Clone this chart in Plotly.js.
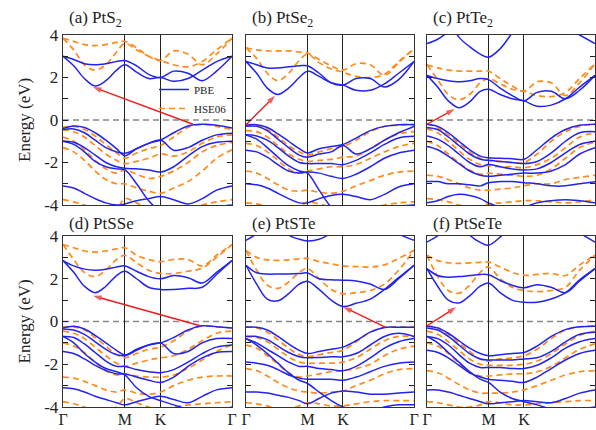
<!DOCTYPE html>
<html><head><meta charset="utf-8">
<script src="https://cdn.plot.ly/plotly-3.0.1.min.js"></script>
<style>html,body{margin:0;padding:0;background:#fff}#chart{width:596px;height:430px}</style>
</head><body><div id="chart"></div>
<script>
// k-path sample positions (Γ–M–K–Γ, hexagonal path lengths)
const kpts = [0, 0.15, 0.3, 0.45, 0.6, 0.75, 0.866, 1.03, 1.2, 1.366, 1.55, 1.75, 1.95, 2.15, 2.366];
const kTickVals = [0, 0.866, 1.366, 2.366];
const kTickText = ['Γ', 'M', 'K', 'Γ'];
const eTickVals = [-4, -2, 0, 2, 4];
const eTickText = ['-4', '-2', '0', '2', '4'];
const panelTitles = ['(a) PtS<sub>2</sub>', '(b) PtSe<sub>2</sub>', '(c) PtTe<sub>2</sub>', '(d) PtSSe', '(e) PtSTe', '(f) PtSeTe'];
const seriesNames = ['PBE', 'HSE06'];

// (a) PtS2
const PtS2_PBE = [
  [3.0, 2.55, 1.95, 1.6, 1.85, 2.35, 2.6, 2.25, 1.95, 2.0, 1.82, 1.95, 2.35, 2.75, 3.0],
  [3.0, 2.85, 2.65, 2.6, 2.65, 2.75, 2.8, 2.55, 2.15, 2.0, 2.3, 2.2, 1.85, 2.3, 3.0],
  [-0.4, -0.28, -0.35, -0.6, -0.95, -1.35, -1.68, -1.35, -1.1, -0.94, -0.6, -0.28, -0.2, -0.25, -0.38],
  [-0.45, -0.42, -0.6, -0.95, -1.3, -1.5, -1.57, -1.35, -1.1, -0.94, -1.42, -1.3, -0.95, -0.7, -0.62],
  [-1.0, -1.05, -1.3, -1.65, -2.0, -2.2, -2.27, -2.3, -2.35, -2.45, -2.2, -1.7, -1.25, -1.05, -1.0],
  [-1.0, -1.15, -1.5, -1.95, -2.2, -2.3, -2.35, -3.0, -3.8, -4.3, -4.5, -4.5, -4.3, -4.1, -4.0],
  [-3.1, -3.2, -3.45, -3.7, -3.9, -4.0, -3.95, -3.8, -3.7, -3.6, -3.75, -3.95, -3.7, -3.3, -3.1]
];
const PtS2_HSE = [
  [3.85, 3.3, 2.6, 2.35, 2.6, 3.2, 3.6, 3.3, 3.0, 2.8, 2.6, 2.5, 2.75, 3.3, 3.85],
  [3.85, 3.7, 3.55, 3.5, 3.55, 3.65, 3.7, 3.4, 3.0, 2.8, 3.25, 3.1, 2.6, 3.1, 3.85],
  [-0.35, -0.3, -0.45, -0.75, -1.15, -1.55, -1.8, -1.55, -1.35, -1.2, -0.8, -0.35, -0.2, -0.3, -0.45],
  [-0.45, -0.55, -0.8, -1.2, -1.6, -1.9, -2.05, -1.95, -1.8, -1.6, -1.7, -1.5, -1.1, -0.8, -0.7],
  [-0.8, -1.0, -1.4, -1.9, -2.3, -2.5, -2.35, -2.55, -2.75, -2.65, -2.4, -2.0, -1.5, -1.2, -1.05],
  [-1.3, -1.5, -1.9, -2.4, -2.8, -3.0, -3.0, -3.2, -3.35, -3.45, -3.2, -2.9, -2.4, -1.8, -1.4],
  [-3.75, -3.85, -4.0, -4.2, -4.3, -4.2, -3.7, -3.9, -4.2, -4.4, -4.4, -4.2, -4.0, -3.85, -3.75]
];
// (b) PtSe2
const PtSe2_PBE = [
  [2.75, 2.2, 1.5, 1.2, 1.5, 2.0, 2.3, 2.05, 1.75, 1.64, 1.4, 1.4, 1.7, 2.2, 2.75],
  [2.75, 2.6, 2.45, 2.45, 2.5, 2.55, 2.55, 2.2, 1.75, 1.64, 1.95, 1.95, 1.55, 1.9, 2.75],
  [-0.25, -0.22, -0.35, -0.65, -1.0, -1.35, -1.55, -1.35, -1.25, -1.15, -0.85, -0.5, -0.3, -0.22, -0.22],
  [-0.3, -0.3, -0.5, -0.9, -1.3, -1.65, -1.75, -1.6, -1.5, -1.2, -1.6, -1.35, -0.95, -0.6, -0.3],
  [-0.7, -0.75, -0.95, -1.3, -1.7, -2.0, -2.05, -2.05, -2.05, -2.1, -1.9, -1.55, -1.15, -0.85, -0.77],
  [-1.42, -1.5, -1.75, -2.1, -2.4, -2.5, -2.45, -2.5, -2.65, -2.75, -2.55, -2.2, -1.8, -1.55, -1.42],
  [-0.7, -0.9, -1.3, -1.75, -2.15, -2.4, -2.5, -3.3, -4.1, -4.5, -4.5, -4.3, -4.1, -4.05, -4.0],
  [-3.0, -3.05, -3.2, -3.45, -3.7, -3.9, -3.9, -3.7, -3.55, -3.5, -3.6, -3.75, -3.5, -3.15, -3.0]
];
const PtSe2_HSE = [
  [3.4, 2.9, 2.2, 1.85, 2.2, 2.8, 3.1, 2.7, 2.4, 2.25, 2.05, 2.0, 2.15, 2.75, 3.35],
  [3.4, 3.3, 3.25, 3.25, 3.25, 3.2, 3.15, 2.85, 2.55, 2.35, 2.65, 2.6, 2.1, 2.7, 3.35],
  [-0.2, -0.25, -0.45, -0.8, -1.2, -1.5, -1.65, -1.5, -1.35, -1.25, -0.95, -0.55, -0.3, -0.25, -0.2],
  [-0.5, -0.55, -0.8, -1.2, -1.6, -1.85, -1.95, -1.9, -1.85, -1.75, -1.7, -1.35, -0.95, -0.65, -0.55],
  [-1.1, -1.2, -1.5, -1.9, -2.3, -2.5, -2.4, -2.3, -2.2, -2.2, -2.1, -1.8, -1.5, -1.25, -1.1],
  [-2.4, -2.5, -2.75, -3.05, -3.3, -3.35, -3.3, -3.4, -3.45, -3.35, -3.1, -2.85, -2.6, -2.45, -2.4],
  [-3.9, -3.95, -4.1, -4.3, -4.3, -4.1, -3.85, -3.95, -4.1, -4.2, -4.2, -4.1, -4.0, -3.9, -3.85]
];
// (c) PtTe2
const PtTe2_PBE = [
  [2.1, 1.55, 0.9, 0.58, 0.85, 1.35, 1.45, 1.2, 1.0, 0.9, 0.65, 0.7, 1.0, 1.55, 2.1],
  [2.1, 1.95, 1.85, 1.8, 1.85, 1.95, 1.9, 1.5, 1.15, 0.9, 1.3, 1.35, 1.0, 1.4, 2.1],
  [3.6, 3.8, 4.15, 4.6, 5.0, 5.3, 5.4, 5.4, 5.4, 5.3, 5.1, 4.8, 4.4, 4.0, 3.6],
  [5.8, 5.6, 4.8, 3.9, 3.45, 3.1, 2.95, 3.35, 4.1, 4.8, 5.4, 5.8, 6.0, 6.0, 6.0],
  [-0.2, -0.3, -0.6, -1.0, -1.4, -1.7, -1.78, -1.8, -1.82, -1.85, -1.4, -0.85, -0.45, -0.25, -0.2],
  [-0.35, -0.45, -0.8, -1.2, -1.6, -1.85, -1.9, -1.95, -2.0, -2.05, -1.95, -1.55, -1.0, -0.6, -0.55],
  [-0.75, -0.9, -1.2, -1.6, -2.0, -2.2, -2.1, -2.2, -2.3, -2.35, -2.3, -2.0, -1.55, -1.15, -1.0],
  [-1.25, -1.4, -1.7, -2.05, -2.4, -2.6, -2.65, -2.6, -2.55, -2.5, -2.5, -2.4, -2.1, -1.6, -1.3],
  [-2.9, -2.9, -3.0, -3.0, -3.05, -3.1, -2.95, -2.9, -2.9, -2.95, -3.0, -3.1, -3.1, -3.0, -2.9],
  [-3.9, -3.8, -3.6, -3.5, -3.55, -3.7, -3.9, -4.1, -4.2, -4.1, -3.9, -3.8, -3.75, -3.8, -3.9]
];
const PtTe2_HSE = [
  [2.6, 1.9, 1.2, 0.95, 1.2, 1.75, 1.95, 1.7, 1.45, 1.35, 1.15, 1.1, 1.3, 1.95, 2.65],
  [2.6, 2.45, 2.35, 2.3, 2.3, 2.3, 2.3, 1.95, 1.6, 1.35, 1.8, 1.75, 1.15, 1.75, 2.65],
  [-0.2, -0.35, -0.7, -1.1, -1.5, -1.8, -1.9, -1.95, -2.0, -2.0, -1.6, -1.0, -0.55, -0.3, -0.2],
  [-0.4, -0.6, -1.0, -1.45, -1.85, -2.1, -2.15, -2.2, -2.2, -2.25, -2.1, -1.8, -1.3, -0.8, -0.6],
  [-1.0, -1.2, -1.6, -2.0, -2.35, -2.55, -2.5, -2.55, -2.6, -2.65, -2.6, -2.3, -1.8, -1.3, -1.05],
  [-2.6, -2.65, -2.8, -3.0, -3.2, -3.3, -3.3, -3.25, -3.2, -3.1, -3.0, -3.0, -2.8, -2.7, -2.6],
  [-3.7, -3.75, -3.85, -4.0, -4.1, -4.05, -3.95, -3.9, -3.85, -3.8, -3.8, -3.85, -3.9, -3.85, -3.75]
];
// (d) PtSSe
const PtSSe_PBE = [
  [2.85, 2.3, 1.65, 1.35, 1.65, 2.15, 2.35, 2.0, 1.6, 1.5, 1.5, 1.55, 1.6, 2.2, 2.85],
  [2.85, 2.6, 2.45, 2.4, 2.45, 2.55, 2.6, 2.35, 2.1, 2.0, 2.15, 2.05, 1.8, 2.3, 2.85],
  [-0.3, -0.22, -0.35, -0.65, -1.0, -1.35, -1.56, -1.3, -1.1, -1.0, -0.75, -0.4, -0.2, -0.25, -0.3],
  [-0.35, -0.4, -0.6, -0.95, -1.3, -1.55, -1.6, -1.35, -1.1, -1.0, -1.5, -1.4, -1.0, -0.8, -0.8],
  [-0.7, -0.75, -1.05, -1.45, -1.85, -2.1, -2.1, -2.25, -2.35, -2.4, -2.25, -1.9, -1.5, -1.2, -1.1],
  [-1.4, -1.5, -1.75, -2.05, -2.3, -2.45, -2.45, -2.6, -2.75, -2.85, -2.6, -2.1, -1.7, -1.45, -1.4],
  [-0.7, -1.0, -1.5, -1.9, -2.2, -2.35, -2.5, -3.1, -3.5, -3.7, -3.9, -4.1, -4.3, -4.2, -4.0],
  [-3.1, -3.15, -3.3, -3.5, -3.65, -3.8, -3.9, -3.75, -3.6, -3.5, -3.65, -3.8, -3.5, -3.2, -3.1]
];
const PtSSe_HSE = [
  [3.6, 2.9, 2.3, 2.1, 2.4, 2.9, 3.1, 2.75, 2.4, 2.25, 2.25, 2.35, 2.5, 3.0, 3.6],
  [3.6, 3.45, 3.3, 3.25, 3.3, 3.4, 3.45, 3.1, 2.9, 2.8, 2.9, 2.9, 2.6, 3.1, 3.6],
  [-0.25, -0.25, -0.4, -0.75, -1.15, -1.55, -1.7, -1.5, -1.3, -1.2, -0.9, -0.45, -0.2, -0.25, -0.3],
  [-0.45, -0.55, -0.8, -1.2, -1.6, -1.95, -2.1, -1.95, -1.8, -1.7, -1.6, -1.3, -0.9, -0.55, -0.45],
  [-1.0, -1.15, -1.45, -1.9, -2.3, -2.5, -2.45, -2.55, -2.6, -2.6, -2.5, -2.2, -1.8, -1.4, -1.1],
  [-2.6, -2.65, -2.8, -3.0, -3.2, -3.3, -3.2, -3.35, -3.4, -3.3, -3.0, -2.75, -2.6, -2.55, -2.55],
  [-3.75, -3.85, -4.0, -4.15, -4.2, -4.0, -3.6, -3.8, -4.0, -4.1, -4.0, -3.9, -3.85, -3.8, -3.75]
];
// (e) PtSTe
const PtSTe_PBE = [
  [2.63, 1.75, 1.05, 0.97, 1.3, 1.75, 1.88, 1.5, 1.0, 0.7, 0.85, 1.05, 1.5, 2.05, 2.63],
  [2.63, 2.28, 2.22, 2.22, 2.22, 2.24, 2.27, 2.0, 1.95, 1.93, 1.9, 1.75, 1.5, 2.0, 2.63],
  [3.8, 4.1, 4.5, 5.0, 5.4, 5.5, 5.5, 5.5, 5.5, 5.5, 5.4, 5.0, 4.6, 4.1, 3.8],
  [6.0, 6.0, 5.5, 4.8, 4.05, 3.85, 3.77, 3.85, 4.15, 4.7, 5.3, 6.0, 6.0, 6.0, 6.0],
  [-0.27, -0.27, -0.4, -0.7, -1.05, -1.35, -1.5, -1.4, -1.3, -1.2, -0.9, -0.5, -0.28, -0.27, -0.27],
  [-0.7, -0.7, -0.85, -1.15, -1.45, -1.65, -1.7, -1.68, -1.65, -1.65, -1.5, -1.1, -0.7, -0.55, -0.7],
  [-0.8, -1.0, -1.3, -1.6, -1.9, -2.1, -2.1, -2.2, -2.25, -2.3, -2.1, -1.7, -1.25, -0.95, -0.8],
  [-1.9, -1.95, -2.05, -2.25, -2.5, -2.65, -2.7, -2.7, -2.7, -2.75, -2.6, -2.35, -2.1, -1.95, -1.9],
  [-0.8, -1.1, -1.5, -1.95, -2.4, -2.75, -2.9, -3.3, -3.7, -4.0, -4.2, -4.2, -4.0, -3.9, -3.9],
  [-3.3, -3.3, -3.35, -3.45, -3.55, -3.7, -3.85, -3.6, -3.35, -3.25, -3.3, -3.4, -3.4, -3.35, -3.3]
];
const PtSTe_HSE = [
  [3.33, 2.4, 1.7, 1.55, 1.85, 2.3, 2.48, 2.0, 1.5, 1.3, 1.35, 1.45, 1.75, 2.4, 3.33],
  [3.33, 3.0, 2.88, 2.86, 2.88, 2.93, 2.95, 2.8, 2.7, 2.6, 2.57, 2.55, 2.65, 2.95, 3.33],
  [-0.25, -0.3, -0.5, -0.85, -1.25, -1.55, -1.65, -1.55, -1.45, -1.35, -0.95, -0.5, -0.27, -0.25, -0.25],
  [-0.7, -0.75, -0.95, -1.3, -1.65, -1.9, -1.95, -1.95, -1.95, -1.9, -1.7, -1.3, -0.9, -0.7, -0.7],
  [-1.1, -1.25, -1.6, -2.0, -2.4, -2.6, -2.55, -2.45, -2.35, -2.3, -2.2, -2.0, -1.6, -1.3, -1.15],
  [-2.2, -2.3, -2.55, -2.85, -3.1, -3.25, -3.3, -3.35, -3.3, -3.25, -3.0, -2.75, -2.45, -2.25, -2.2],
  [-3.8, -3.85, -3.95, -4.1, -4.1, -3.95, -3.8, -3.85, -3.95, -3.95, -3.85, -3.75, -3.7, -3.7, -3.7]
];
// (f) PtSeTe
const PtSeTe_PBE = [
  [2.47, 1.65, 1.0, 0.87, 1.2, 1.65, 1.8, 1.35, 1.0, 0.9, 0.9, 1.05, 1.35, 1.95, 2.47],
  [2.47, 2.15, 2.07, 2.1, 2.15, 2.2, 2.19, 1.92, 1.7, 1.58, 1.72, 1.6, 1.35, 1.9, 2.47],
  [3.72, 4.0, 4.4, 4.9, 5.3, 5.5, 5.5, 5.5, 5.5, 5.5, 5.5, 5.2, 4.7, 4.15, 3.72],
  [6.0, 6.0, 5.5, 4.8, 4.05, 3.7, 3.57, 3.95, 4.6, 5.2, 5.8, 6.0, 6.0, 6.0, 6.0],
  [-0.22, -0.3, -0.55, -0.9, -1.25, -1.5, -1.6, -1.55, -1.5, -1.45, -1.15, -0.7, -0.38, -0.25, -0.22],
  [-0.3, -0.4, -0.7, -1.1, -1.5, -1.75, -1.8, -1.8, -1.8, -1.75, -1.7, -1.4, -0.95, -0.6, -0.5],
  [-0.7, -0.8, -1.1, -1.55, -1.95, -2.15, -2.15, -2.15, -2.2, -2.2, -2.05, -1.7, -1.25, -0.95, -0.8],
  [-1.35, -1.45, -1.7, -2.05, -2.4, -2.6, -2.7, -2.75, -2.8, -2.85, -2.6, -2.2, -1.8, -1.5, -1.35],
  [-0.7, -1.0, -1.45, -1.9, -2.35, -2.7, -2.85, -3.3, -3.6, -3.75, -3.9, -4.1, -4.2, -4.1, -4.0],
  [-3.2, -3.2, -3.3, -3.45, -3.6, -3.75, -3.85, -3.8, -3.75, -3.7, -3.75, -3.8, -3.6, -3.35, -3.2]
];
const PtSeTe_HSE = [
  [3.1, 2.1, 1.45, 1.32, 1.7, 2.3, 2.55, 2.0, 1.6, 1.45, 1.4, 1.45, 1.6, 2.4, 3.1],
  [3.1, 2.85, 2.75, 2.72, 2.74, 2.77, 2.78, 2.55, 2.3, 2.16, 2.2, 2.25, 2.15, 2.65, 3.1],
  [-0.2, -0.3, -0.6, -1.0, -1.4, -1.75, -1.85, -1.75, -1.7, -1.6, -1.3, -0.8, -0.4, -0.25, -0.2],
  [-0.45, -0.6, -0.95, -1.35, -1.75, -2.0, -2.05, -2.05, -2.05, -2.0, -1.85, -1.5, -1.05, -0.65, -0.45],
  [-1.0, -1.15, -1.5, -1.95, -2.35, -2.55, -2.55, -2.5, -2.45, -2.45, -2.35, -2.1, -1.7, -1.3, -1.05],
  [-2.3, -2.4, -2.65, -2.95, -3.2, -3.35, -3.35, -3.35, -3.3, -3.2, -3.0, -2.75, -2.5, -2.35, -2.3],
  [-3.75, -3.8, -3.9, -4.0, -4.0, -3.9, -3.75, -3.8, -3.9, -3.9, -3.85, -3.8, -3.75, -3.7, -3.7]
];
// band-gap arrows: [k, E] of VBM (tail) and CBM (head)
const gapVBM = [[1.82, -0.2], [0, -0.22], [0, -0.2], [1.92, -0.2], [1.96, -0.26], [0, -0.2]];
const gapCBM = [[0.42, 1.55], [0.41, 1.14], [0.39, 0.52], [0.42, 1.2], [1.37, 0.68], [0.41, 0.67]];

const PBEs = [PtS2_PBE, PtSe2_PBE, PtTe2_PBE, PtSSe_PBE, PtSTe_PBE, PtSeTe_PBE];
const HSEs = [PtS2_HSE, PtSe2_HSE, PtTe2_HSE, PtSSe_HSE, PtSTe_HSE, PtSeTe_HSE];

const W = 596, H = 430;
const colPx = [[63, 232], [246, 414], [427, 595]];
const rowPx = [[35, 205], [236, 407]];
const BLUE = '#2323ee', ORANGE = '#ff8a1c', RED = '#ee1c1c';
const FONT = 'Liberation Serif, Times New Roman, serif';

const traces = [];
const layout = {
  width: W, height: H, margin: {l: 0, r: 0, t: 0, b: 0},
  paper_bgcolor: '#fff', plot_bgcolor: '#fff',
  font: {family: FONT, size: 16, color: '#222'},
  showlegend: true,
  legend: {x: 154 / W, y: 1 - 75 / H, xanchor: 'left', yanchor: 'top', bgcolor: 'rgba(0,0,0,0)',
           font: {family: FONT, size: 11, color: '#222'}, tracegroupgap: 0, itemwidth: 30},
  annotations: [], shapes: []
};

for (let p = 0; p < 6; p++) {
  const r = Math.floor(p / 3), c = p % 3;
  const sfx = p === 0 ? '' : String(p + 1);
  const xa = 'x' + sfx, ya = 'y' + sfx;
  layout['xaxis' + sfx] = {
    domain: [colPx[c][0] / W, colPx[c][1] / W], anchor: ya, range: [0, 2.366],
    tickvals: kTickVals, ticktext: kTickText, showticklabels: r === 1,
    ticks: 'inside', ticklen: 4, tickcolor: '#222', ticklabelstandoff: -3,
    showgrid: true, gridcolor: '#222', gridwidth: 1, zeroline: false,
    showline: true, linecolor: '#333', linewidth: 1.3, mirror: 'ticks',
    tickfont: {family: FONT, size: 16, color: '#222'}, fixedrange: true
  };
  layout['yaxis' + sfx] = {
    domain: [1 - rowPx[r][1] / H, 1 - rowPx[r][0] / H], anchor: xa, range: [-4, 4],
    tickvals: eTickVals, ticktext: eTickText, showticklabels: c === 0,
    ticks: 'inside', ticklen: 5, tickcolor: '#222', showgrid: false, zeroline: false,
    minor: {dtick: 1, ticks: 'inside', ticklen: 5, tickcolor: '#222', showgrid: false},
    showline: true, linecolor: '#333', linewidth: 1.3, mirror: 'ticks',
    tickfont: {family: FONT, size: 17, color: '#222'}, fixedrange: true
  };
  HSEs[p].forEach((band, i) => traces.push({
    x: kpts, y: band, xaxis: xa, yaxis: ya, mode: 'lines', name: seriesNames[1],
    legendrank: 2, showlegend: p === 0 && i === 0, hoverinfo: 'skip',
    line: {color: ORANGE, width: 1.7, dash: '6px,4px', shape: 'spline', smoothing: 1}
  }));
  PBEs[p].forEach((band, i) => traces.push({
    x: kpts, y: band, xaxis: xa, yaxis: ya, mode: 'lines', name: seriesNames[0],
    legendrank: 1, showlegend: p === 0 && i === 0, hoverinfo: 'skip',
    line: {color: BLUE, width: 1.5, shape: 'spline', smoothing: 1}
  }));
  // gap arrow (VBM -> CBM)
  traces.push({
    x: [gapVBM[p][0], gapCBM[p][0]], y: [gapVBM[p][1], gapCBM[p][1]], xaxis: xa, yaxis: ya,
    mode: 'lines+markers', showlegend: false, hoverinfo: 'skip', cliponaxis: false,
    line: {color: RED, width: 1.4},
    marker: {symbol: ['circle', 'arrow'], size: [0, 9], angleref: 'previous', color: RED, line: {width: 0}}
  });
  // Fermi level
  layout.shapes.push({type: 'line', xref: xa + ' domain', yref: ya, x0: 0, x1: 1, y0: 0, y1: 0,
    line: {color: '#888', width: 1.3, dash: '6px,4px'}, layer: 'below'});
  // panel title
  layout.annotations.push({xref: 'paper', yref: 'paper', x: (colPx[c][0] + 4) / W, y: 1 - rowPx[r][0] / H,
    xanchor: 'left', yanchor: 'bottom', yshift: r === 0 ? 3 : 1, showarrow: false, text: panelTitles[p],
    font: {family: FONT, size: 17, color: '#222'}});
}
// y-axis titles
for (let r = 0; r < 2; r++) {
  layout.annotations.push({xref: 'paper', yref: 'paper', x: 24 / W, y: 1 - (rowPx[r][0] + rowPx[r][1]) / 2 / H,
    xanchor: 'center', yanchor: 'middle', textangle: -90, showarrow: false, text: 'Energy (eV)',
    font: {family: FONT, size: 17, color: '#222'}});
}

Plotly.newPlot('chart', traces, layout, {staticPlot: true, displayModeBar: false});
</script>
</body></html>
